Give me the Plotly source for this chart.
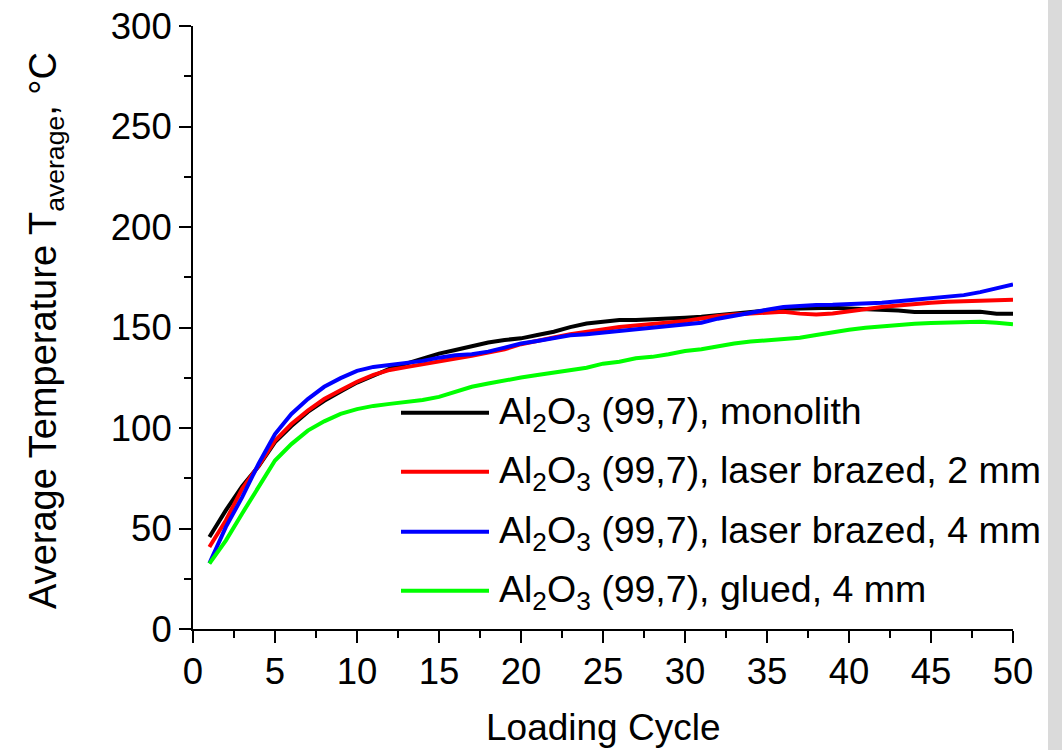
import plotly.graph_objects as go

# Loading cycles 1..50
cycles = list(range(1, 51))

monolith = [45.8, 59, 71, 81, 93, 101, 108, 113.5, 118.2, 122.6,
            126, 129.5, 132, 134.7, 137, 138.8, 140.8, 142.5, 143.8, 144.6,
            146.3, 147.9, 150.2, 152, 152.9, 153.7, 153.7, 154, 154.5, 154.9,
            155.4, 156.2, 157, 157.8, 158.5, 159.3, 159.5, 159.8, 159.8, 159.5,
            159.3, 159, 158.5, 157.7, 157.8, 157.8, 158.2, 157.8, 156.9, 156.9]

laser_2mm = [40.8, 54, 69.8, 81.3, 93.7, 102, 108.6, 114.4, 118.8, 123,
             126.4, 128.9, 130.3, 131.7, 132.6, 134.2, 135.9, 137.5, 139.2, 141.7,
             143.6, 145, 146.6, 147.9, 149.1, 150.2, 151, 151.9, 152.5, 153.2,
             154.5, 155.7, 156.5, 157, 157.7, 157.8, 156.9, 156.5, 157, 158.2,
             159.3, 160.2, 161, 161.8, 162.3, 162.8, 163.1, 163.3, 163.6, 163.8]

laser_4mm = [32.7, 50.7, 65.6, 82.2, 97, 107, 114.4, 120.5, 124.8, 128.4,
             130.4, 131.4, 132, 133.4, 135, 136.2, 136.7, 138, 140, 142,
             143.3, 144.6, 146.1, 146.6, 147.4, 148.3, 149.1, 150, 150.5, 151.2,
             152.4, 154.4, 156, 157.7, 158.8, 160.2, 160.8, 161.2, 161.3, 161.6,
             162, 162.3, 163.1, 163.8, 164.5, 165.1, 166.1, 167.6, 169.4, 171.4]

glued_4mm = [32.5, 44, 57.5, 70.6, 83.8, 92, 98.7, 103.3, 107, 109.4,
             111, 112, 112.7, 113.9, 115.5, 118.2, 120.5, 122.1, 123.8, 125.1,
             126.4, 127.6, 128.8, 130, 132, 133, 134.7, 135.4, 136.7, 138.3,
             139.2, 140.8, 142, 143, 143.6, 144.3, 144.9, 146.3, 147.8, 148.9,
             149.9, 150.6, 151.2, 151.9, 152.2, 152.4, 152.7, 152.9, 152.4, 151.6]

series_names = [
    "Al<sub>2</sub>O<sub>3</sub> (99,7), monolith",
    "Al<sub>2</sub>O<sub>3</sub> (99,7), laser brazed, 2 mm",
    "Al<sub>2</sub>O<sub>3</sub> (99,7), laser brazed, 4 mm",
    "Al<sub>2</sub>O<sub>3</sub> (99,7), glued, 4 mm",
]
series_values = [monolith, laser_2mm, laser_4mm, glued_4mm]
series_colors = ["#000000", "#ff0000", "#0000ff", "#00ff00"]

FONT = "Liberation Sans, Arial, sans-serif"
W, H = 1062, 750
ML, MR, MT, MB = 193, 49, 26, 121
PW, PH = W - ML - MR, H - MT - MB

fig = go.Figure()
for name, vals, col in zip(series_names, series_values, series_colors):
    fig.add_trace(go.Scatter(x=cycles, y=vals, mode="lines", name=name,
                             line=dict(color=col, width=4), showlegend=False))

def px_x(px):
    return (px - ML) / PW

def px_y(py):
    return (H - MB - py) / PH

# Hand-built legend with long sample lines
legend_y = [412.7, 471.7, 531.7, 590.7]
shapes = []
annotations = []
for name, col, ly in zip(series_names, series_colors, legend_y):
    shapes.append(dict(type="line", xref="paper", yref="paper",
                       x0=px_x(401), x1=px_x(489), y0=px_y(ly), y1=px_y(ly),
                       line=dict(color=col, width=4)))
    annotations.append(dict(text=name, xref="paper", yref="paper",
                            x=px_x(497), y=px_y(ly), xanchor="left", yanchor="middle",
                            yshift=-1, showarrow=False,
                            font=dict(family=FONT, size=37.5, color="#000000")))

# Grey strip along the right edge of the page
shapes.append(dict(type="rect", xref="paper", yref="paper",
                   x0=px_x(1048), x1=px_x(1063), y0=px_y(751), y1=px_y(-1),
                   fillcolor="#dadada", line=dict(width=0), layer="below"))

annotations.append(dict(text="Average Temperature T<sub>average</sub>, °C",
                        xref="paper", yref="paper", x=px_x(46), y=px_y(331),
                        xanchor="center", yanchor="middle", textangle=-90,
                        showarrow=False, font=dict(family=FONT, size=38, color="#000000")))
annotations.append(dict(text="Loading Cycle", xref="paper", yref="paper",
                        x=px_x(603), y=px_y(727), xanchor="center", yanchor="middle",
                        showarrow=False, font=dict(family=FONT, size=37, color="#000000")))

axis_common = dict(showline=True, linecolor="#000000", linewidth=2,
                   ticks="outside", ticklen=12, tickwidth=2, tickcolor="#000000",
                   showgrid=False, zeroline=False,
                   tickfont=dict(family=FONT, size=36.5, color="#000000"))

fig.update_layout(
    width=W, height=H,
    margin=dict(l=ML, r=MR, t=MT, b=MB, autoexpand=False),
    paper_bgcolor="#ffffff", plot_bgcolor="#ffffff",
    font=dict(family=FONT, size=36, color="#000000"),
    xaxis=dict(range=[0, 50], tickmode="linear", tick0=0, dtick=5,
               ticklabelstandoff=-3,
               minor=dict(dtick=2.5, ticklen=7, tickwidth=2, tickcolor="#000000", ticks="outside"),
               **axis_common),
    yaxis=dict(range=[0, 300], tickmode="linear", tick0=0, dtick=50,
               minor=dict(dtick=25, ticklen=7, tickwidth=2, tickcolor="#000000", ticks="outside"),
               **axis_common),
    shapes=shapes,
    annotations=annotations,
)

fig.write_html("out.html")
